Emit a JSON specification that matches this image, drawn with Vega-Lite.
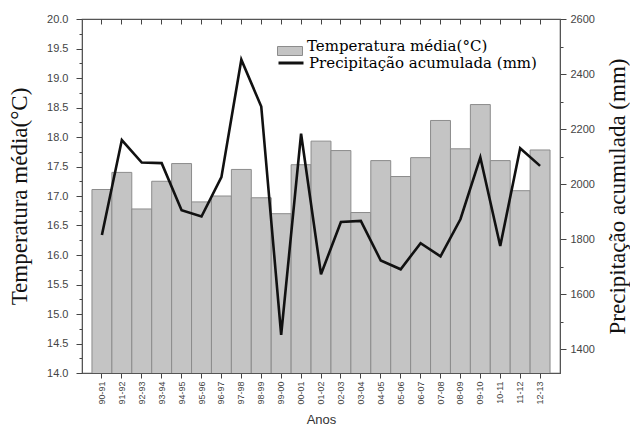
{
  "$schema": "https://vega.github.io/schema/vega-lite/v6.json",
  "width": 478,
  "height": 354,
  "autosize": "none",
  "padding": {"left": 82, "top": 19, "right": 70, "bottom": 58},
  "background": "white",
  "config": {
    "view": {"stroke": "#555", "strokeWidth": 1.2},
    "axis": {"grid": false, "domainColor": "#555", "tickColor": "#444", "labelColor": "#444", "labelFont": "Liberation Sans", "titleFontWeight": "normal"}
  },
  "data": {
    "values": [
      {"ano": "90-91", "temp": 17.11, "prec": 1815},
      {"ano": "91-92", "temp": 17.40, "prec": 2160},
      {"ano": "92-93", "temp": 16.78, "prec": 2078},
      {"ano": "93-94", "temp": 17.25, "prec": 2076},
      {"ano": "94-95", "temp": 17.55, "prec": 1905},
      {"ano": "95-96", "temp": 16.90, "prec": 1882},
      {"ano": "96-97", "temp": 17.00, "prec": 2025},
      {"ano": "97-98", "temp": 17.45, "prec": 2452},
      {"ano": "98-99", "temp": 16.97, "prec": 2282},
      {"ano": "99-00", "temp": 16.70, "prec": 1452},
      {"ano": "00-01", "temp": 17.53, "prec": 2183},
      {"ano": "01-02", "temp": 17.93, "prec": 1672},
      {"ano": "02-03", "temp": 17.77, "prec": 1862},
      {"ano": "03-04", "temp": 16.72, "prec": 1866},
      {"ano": "04-05", "temp": 17.60, "prec": 1722},
      {"ano": "05-06", "temp": 17.33, "prec": 1690},
      {"ano": "06-07", "temp": 17.65, "prec": 1785},
      {"ano": "07-08", "temp": 18.28, "prec": 1737},
      {"ano": "08-09", "temp": 17.80, "prec": 1872},
      {"ano": "09-10", "temp": 18.55, "prec": 2097},
      {"ano": "10-11", "temp": 17.60, "prec": 1775},
      {"ano": "11-12", "temp": 17.09, "prec": 2130},
      {"ano": "12-13", "temp": 17.78, "prec": 2066}
    ]
  },
  "layer": [
    {
      "mark": {"type": "bar", "stroke": "#8c8c8c", "strokeWidth": 1, "clip": true},
      "encoding": {
        "x": {
          "field": "ano", "type": "ordinal", "sort": null,
          "scale": {"paddingInner": 0, "paddingOuter": 0.5},
          "axis": {"orient": "bottom", "labelAngle": -90, "labelFontSize": 9, "labelPadding": 3, "tickSize": 5, "title": "Anos", "titleFont": "Liberation Sans", "titleFontSize": 13, "titleColor": "#333", "titlePadding": 9}
        },
        "y": {
          "field": "temp", "type": "quantitative",
          "scale": {"domain": [14, 20], "nice": false, "zero": false},
          "axis": {
            "orient": "left",
            "values": [14, 14.25, 14.5, 14.75, 15, 15.25, 15.5, 15.75, 16, 16.25, 16.5, 16.75, 17, 17.25, 17.5, 17.75, 18, 18.25, 18.5, 18.75, 19, 19.25, 19.5, 19.75, 20],
            "labelExpr": "(datum.value * 2) % 1 == 0 ? format(datum.value, '.1f') : ''",
            "tickSize": {"condition": {"test": "(datum.value * 2) % 1 == 0", "value": 6}, "value": 3},
            "labelFontSize": 11, "labelPadding": 8,
            "title": "Temperatura média(°C)", "titleFont": "Liberation Serif", "titleFontSize": 23, "titleColor": "#111", "titlePadding": 15
          }
        },
        "fill": {
          "datum": "Temperatura média(°C)",
          "scale": {"range": ["#c4c4c4"]},
          "legend": {"title": null, "orient": "none", "legendX": 195, "legendY": 19, "symbolType": "M-1,-0.36H1V0.36H-1Z", "symbolSize": 625, "symbolStrokeColor": "#8c8c8c", "symbolStrokeWidth": 1, "symbolOpacity": 1, "labelFont": "DejaVu Serif", "labelFontSize": 15, "labelBaseline": "alphabetic", "labelColor": "#000", "labelOffset": 4, "padding": 0, "labelLimit": 400}
        }
      }
    },
    {
      "mark": {"type": "line", "strokeWidth": 2.6, "strokeJoin": "miter"},
      "encoding": {
        "x": {
          "field": "ano", "type": "ordinal", "sort": null,
          "axis": {"orient": "top", "labels": false, "tickSize": -5, "title": null, "domain": false}
        },
        "y": {
          "field": "prec", "type": "quantitative",
          "scale": {"domain": [1313, 2600], "nice": false, "zero": false},
          "axis": {
            "orient": "right",
            "values": [1400, 1500, 1600, 1700, 1800, 1900, 2000, 2100, 2200, 2300, 2400, 2500, 2600],
            "labelExpr": "datum.value % 200 == 0 ? format(datum.value, 'd') : ''",
            "tickSize": {"condition": {"test": "datum.value % 200 == 0", "value": 6}, "value": 3},
            "labelFontSize": 11, "labelPadding": 4,
            "title": "Precipitação acumulada (mm)", "titleAngle": 270, "titleFont": "Liberation Serif", "titleFontSize": 23, "titleColor": "#111", "titlePadding": 35
          }
        },
        "stroke": {
          "datum": "Precipitação acumulada (mm)",
          "scale": {"range": ["#111"]},
          "legend": {"title": null, "orient": "none", "legendX": 195, "legendY": 30, "symbolType": "stroke", "symbolSize": 625, "symbolStrokeWidth": 3, "labelFont": "DejaVu Serif", "labelFontSize": 15, "labelColor": "#000", "labelOffset": 4, "padding": 0, "labelLimit": 400}
        }
      }
    }
  ],
  "resolve": {"scale": {"y": "independent"}, "axis": {"x": "independent"}}
}
